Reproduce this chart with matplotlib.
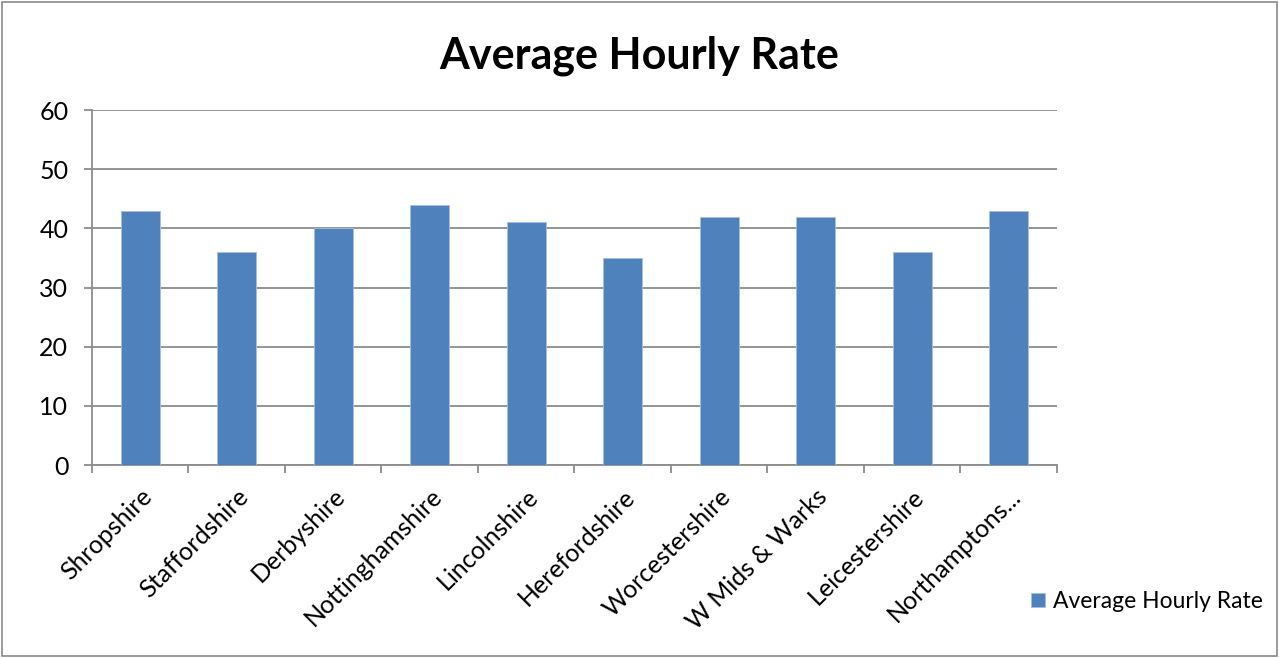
import matplotlib.pyplot as plt
from matplotlib.patches import Rectangle

counties = ["Shropshire", "Staffordshire", "Derbyshire", "Nottinghamshire",
            "Lincolnshire", "Herefordshire", "Worcestershire", "W Mids & Warks",
            "Leicestershire", "Northamptons..."]
rates = [43, 36, 40, 44, 41, 35, 42, 42, 36, 43]
yticks = [0, 10, 20, 30, 40, 50, 60]

plt.rcParams['font.family'] = ['Lato', 'DejaVu Sans']
bar_col = '#4f81bd'
grid_col = '#8c8c8c'

fig = plt.figure(figsize=(12.79, 6.58), dpi=100)
fig.patches.append(Rectangle((0.0015, 0.003), 0.997, 0.994, transform=fig.transFigure,
                             fill=False, edgecolor='#8a8a8a', lw=1.2))
ax = fig.add_axes([0.0719, 0.2933, 0.7545, 0.5395])

x = list(range(len(counties)))
ax.bar(x, rates, width=0.4, color=bar_col, edgecolor='#a5bfe0', lw=0.6,
       label='Average Hourly Rate', zorder=3)

ax.set_xlim(-0.5, len(counties) - 0.5)
ax.set_ylim(0, 60)
ax.set_yticks(yticks)
ax.yaxis.grid(True, color=grid_col, lw=1.3, zorder=0)
for s in ['top', 'right']:
    ax.spines[s].set_visible(False)
for s in ['left', 'bottom']:
    ax.spines[s].set_color(grid_col)
    ax.spines[s].set_linewidth(1.3)

ax.set_xticks([i - 0.5 for i in range(len(counties) + 1)])
ax.set_xticklabels([])
ax.set_xticks(x, minor=True)
ax.set_xticklabels(counties, minor=True, rotation=45, ha='right',
                   rotation_mode='anchor', fontsize=18)
ax.tick_params(axis='x', which='minor', length=0, pad=14)
ax.tick_params(axis='x', which='major', length=6, color=grid_col, width=1.3)
ax.tick_params(axis='y', length=6, color=grid_col, width=1.3, labelsize=18, pad=11)

fig.text(0.5, 0.915, 'Average Hourly Rate', ha='center', va='center',
         fontsize=31, fontweight='bold')

ax.legend(loc='center left', bbox_to_anchor=(0.806, 0.086), bbox_transform=fig.transFigure,
          frameon=False, fontsize=16.5, handlelength=0.6, handleheight=0.6,
          handletextpad=0.35, borderaxespad=0, borderpad=0)

fig.savefig('out.png', dpi=100)
